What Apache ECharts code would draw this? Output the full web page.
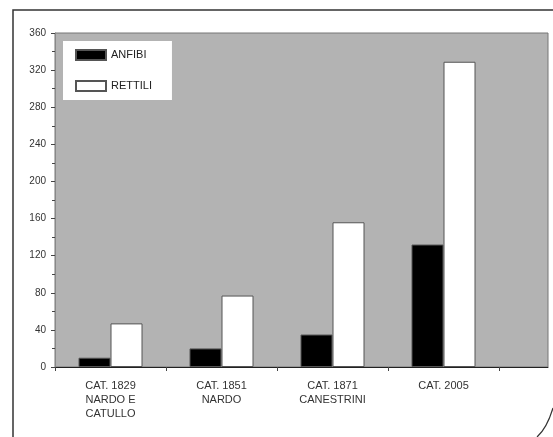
<!DOCTYPE html>
<html>
<head>
<meta charset="utf-8">
<script src="https://cdn.jsdelivr.net/npm/echarts@6/dist/echarts.min.js"></script>
<style>
  html, body { margin:0; padding:0; background:#fff; }
  #chart { width:553px; height:437px; }
</style>
</head>
<body>
<div id="chart"></div>
<script>
const categories = ['CAT. 1829\nNARDO E\nCATULLO', 'CAT. 1851\nNARDO', 'CAT. 1871\nCANESTRINI', 'CAT. 2005'];
const anfibi = [10, 20, 35, 132];
const rettili = [47, 77, 156, 329];
const yTicks = { min:0, max:360, interval:40 };

const chart = echarts.init(document.getElementById('chart'));
const font = 'Liberation Sans, Arial, sans-serif';
const edge = { borderColor:'#555', borderWidth:1 };

chart.setOption({
  animation:false,
  backgroundColor:'#fff',
  graphic:[
    { type:'rect', shape:{x:13, y:10, width:560, height:450}, style:{fill:'none', stroke:'#333', lineWidth:1.5}, silent:true },
    { type:'bezierCurve', shape:{x1:537, y1:437, x2:553, y2:408, cpx1:545, cpy1:430, cpx2:550, cpy2:418}, style:{stroke:'#333', lineWidth:1.2, fill:'none'}, silent:true }
  ],
  legend:{
    left:63, top:41, orient:'vertical', icon:'rect', itemWidth:30, itemHeight:10, itemGap:19,
    padding:[8,20,8,12], backgroundColor:'#fff',
    textStyle:{fontFamily:font, fontSize:11, color:'#222'},
    data:['ANFIBI', 'RETTILI']
  },
  grid:[
    { left:55, top:33, width:493, height:334, show:true, backgroundColor:'#b3b3b3', borderColor:'#777', borderWidth:1 },
    { left:55, top:33, width:444, height:334 }
  ],
  xAxis:[
    { gridIndex:0, type:'value', min:0, max:1, axisLine:{show:true, lineStyle:{color:'#222'}}, axisTick:{show:false}, axisLabel:{show:false}, splitLine:{show:false} },
    {
      gridIndex:1, type:'category', data:categories,
      axisLine:{show:false},
      axisTick:{show:true, length:4, lineStyle:{color:'#444'}},
      axisLabel:{fontFamily:font, fontSize:11, color:'#333', lineHeight:14, margin:12}
    }
  ],
  yAxis:[
    { gridIndex:0, type:'value', show:false, min:0, max:1 },
    {
      gridIndex:1, type:'value', ...yTicks,
      axisLine:{show:true, lineStyle:{color:'#888'}},
      axisTick:{show:true, length:4, lineStyle:{color:'#444'}},
      minorTick:{show:true, splitNumber:2, length:3, lineStyle:{color:'#444'}},
      splitLine:{show:false},
      axisLabel:{fontFamily:font, fontSize:10, color:'#333', margin:9}
    }
  ],
  series:[
    { name:'ANFIBI', type:'bar', xAxisIndex:1, yAxisIndex:1, data:anfibi, barWidth:32, barGap:'0%', itemStyle:{color:'#000', ...edge} },
    { name:'RETTILI', type:'bar', xAxisIndex:1, yAxisIndex:1, data:rettili, barWidth:32, barGap:'0%', itemStyle:{color:'#fff', ...edge} }
  ]
});
</script>
</body>
</html>
